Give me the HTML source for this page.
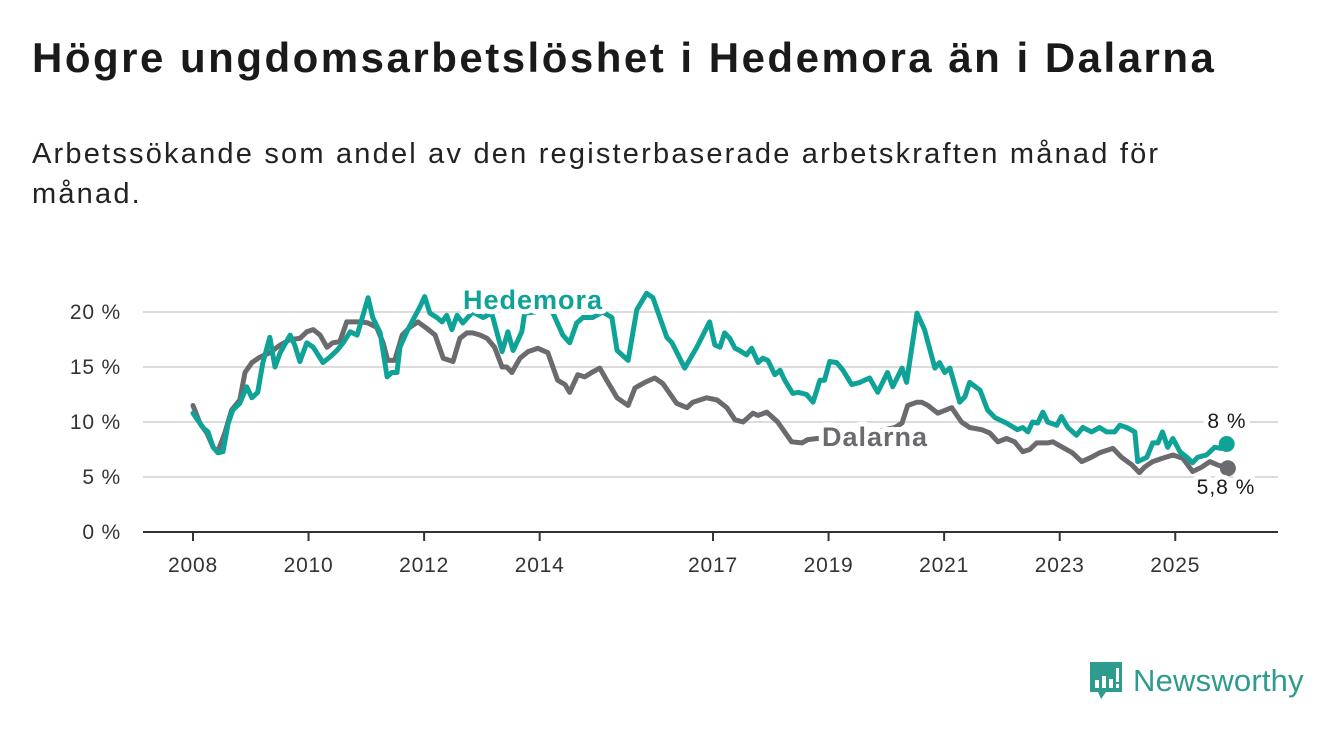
<!DOCTYPE html>
<html><head><meta charset="utf-8">
<style>
html,body{margin:0;padding:0;background:#fff;}
body{width:1340px;height:734px;position:relative;overflow:hidden;font-family:"Liberation Sans",sans-serif;color:#1a1a1a;}
#title{position:absolute;left:32px;top:34px;font-size:42px;font-weight:bold;margin:0;letter-spacing:2.5px;}
#subtitle{position:absolute;left:32px;top:134px;font-size:29px;line-height:40px;width:1185px;margin:0;color:#222;letter-spacing:2.2px;}
svg{position:absolute;left:0;top:0;}
#logo{position:absolute;left:1088px;top:660px;display:flex;align-items:center;}
#logo span{font-size:31px;color:#2e9b8f;font-weight:normal;margin-left:9px;letter-spacing:0.2px;}
</style></head>
<body>
<h1 id="title">Högre ungdomsarbetslöshet i Hedemora än i Dalarna</h1>
<p id="subtitle">Arbetssökande som andel av den registerbaserade arbetskraften månad för månad.</p>
<svg id="chart" width="1340" height="734"></svg>
<div id="logo">
<svg width="36" height="42" viewBox="0 0 36 42" style="position:static"><path d="M2 2h32v30H18l-5 7-3-7H2z" fill="#2e9b8f"/><rect x="7" y="20" width="4" height="8" fill="#fff"/><rect x="14" y="16" width="4" height="12" fill="#fff"/><rect x="21" y="19" width="4" height="9" fill="#fff"/><rect x="28" y="8" width="3" height="14" fill="#fff"/><rect x="28" y="24" width="3" height="4" fill="#fff"/></svg>
<span>Newsworthy</span>
</div>
<script>
const yTicks=[0,5,10,15,20];
const xTickYears=[2008,2010,2012,2014,2017,2019,2021,2023,2025];
const hedYears=[2008.0,2008.17,2008.26,2008.35,2008.43,2008.52,2008.61,2008.69,2008.81,2008.93,2009.02,2009.12,2009.21,2009.33,2009.42,2009.51,2009.68,2009.76,2009.85,2009.97,2010.08,2010.25,2010.37,2010.49,2010.60,2010.72,2010.84,2010.92,2011.03,2011.11,2011.24,2011.36,2011.44,2011.53,2011.58,2011.70,2011.81,2011.93,2012.01,2012.10,2012.22,2012.31,2012.39,2012.48,2012.57,2012.67,2012.84,2013.02,2013.17,2013.35,2013.45,2013.54,2013.69,2013.74,2013.92,2014.09,2014.23,2014.40,2014.52,2014.64,2014.75,2014.92,2015.09,2015.25,2015.34,2015.53,2015.68,2015.85,2015.96,2016.20,2016.29,2016.51,2016.72,2016.94,2017.03,2017.12,2017.20,2017.29,2017.38,2017.46,2017.58,2017.67,2017.78,2017.86,2017.95,2018.07,2018.16,2018.24,2018.38,2018.47,2018.62,2018.73,2018.85,2018.93,2019.02,2019.14,2019.25,2019.40,2019.54,2019.71,2019.85,2020.02,2020.11,2020.27,2020.35,2020.53,2020.66,2020.84,2020.92,2021.01,2021.10,2021.27,2021.36,2021.44,2021.62,2021.75,2021.88,2022.08,2022.27,2022.36,2022.45,2022.53,2022.62,2022.71,2022.79,2022.95,2023.03,2023.14,2023.29,2023.40,2023.55,2023.69,2023.81,2023.95,2024.04,2024.16,2024.30,2024.35,2024.51,2024.61,2024.70,2024.78,2024.87,2024.96,2025.08,2025.20,2025.30,2025.39,2025.54,2025.68,2025.80,2025.89];
const hedValues=[10.8,9.5,9.1,7.7,7.2,7.3,9.9,11.1,11.7,13.2,12.2,12.7,15.4,17.7,15.0,16.3,17.9,17.0,15.5,17.2,16.8,15.4,15.9,16.5,17.2,18.2,17.9,19.3,21.3,19.5,18.1,14.1,14.5,14.5,16.8,18.2,19.3,20.5,21.4,19.9,19.5,19.1,19.7,18.4,19.7,19.0,20.0,19.5,19.9,16.4,18.2,16.5,18.2,19.9,20.0,20.5,19.9,17.9,17.2,19.0,19.5,19.5,20.0,19.5,16.5,15.6,20.2,21.7,21.3,17.7,17.2,14.9,16.8,19.1,17.0,16.8,18.1,17.6,16.7,16.5,16.1,16.7,15.4,15.8,15.6,14.3,14.7,13.8,12.6,12.7,12.5,11.8,13.8,13.8,15.5,15.4,14.7,13.4,13.6,14.0,12.7,14.5,13.2,14.9,13.6,19.9,18.4,14.9,15.4,14.5,14.9,11.8,12.3,13.6,12.9,11.1,10.4,9.9,9.3,9.5,9.1,10.0,9.9,10.9,10.0,9.7,10.5,9.5,8.8,9.5,9.1,9.5,9.1,9.1,9.7,9.5,9.1,6.4,6.8,8.1,8.1,9.1,7.7,8.5,7.3,6.8,6.3,6.8,7.0,7.7,7.6,8.0];
const dalYears=[2008.0,2008.12,2008.24,2008.35,2008.43,2008.55,2008.67,2008.81,2008.90,2009.02,2009.16,2009.33,2009.51,2009.68,2009.85,2009.97,2010.08,2010.20,2010.32,2010.42,2010.54,2010.66,2010.77,2010.92,2011.03,2011.18,2011.29,2011.37,2011.49,2011.62,2011.75,2011.89,2012.05,2012.19,2012.33,2012.50,2012.62,2012.74,2012.84,2012.97,2013.09,2013.22,2013.35,2013.43,2013.52,2013.66,2013.80,2013.97,2014.14,2014.31,2014.44,2014.52,2014.66,2014.78,2014.90,2015.04,2015.16,2015.34,2015.53,2015.65,2015.82,2015.99,2016.13,2016.37,2016.55,2016.65,2016.89,2017.07,2017.24,2017.38,2017.52,2017.69,2017.78,2017.93,2018.12,2018.36,2018.54,2018.64,2018.80,2019.19,2019.71,2020.15,2020.27,2020.37,2020.53,2020.61,2020.72,2020.89,2021.13,2021.30,2021.44,2021.65,2021.79,2021.93,2022.08,2022.22,2022.36,2022.48,2022.60,2022.79,2022.88,2023.05,2023.22,2023.38,2023.55,2023.69,2023.92,2024.07,2024.25,2024.38,2024.47,2024.61,2024.78,2024.96,2025.13,2025.30,2025.46,2025.60,2025.73,2025.91];
const dalValues=[11.5,9.9,9.0,7.7,7.3,9.0,11.1,12.0,14.5,15.4,15.9,16.3,17.0,17.5,17.6,18.2,18.4,17.9,16.8,17.2,17.3,19.1,19.1,19.1,19.0,18.6,17.2,15.6,15.6,17.9,18.6,19.1,18.5,17.9,15.8,15.5,17.6,18.1,18.1,17.9,17.6,16.8,15.0,15.0,14.5,15.8,16.4,16.7,16.3,13.8,13.4,12.7,14.3,14.1,14.5,14.9,13.8,12.2,11.5,13.1,13.6,14.0,13.5,11.7,11.3,11.8,12.2,12.0,11.3,10.2,10.0,10.8,10.6,10.9,10.0,8.2,8.1,8.4,8.5,8.5,9.0,9.5,9.9,11.5,11.8,11.8,11.5,10.8,11.3,10.0,9.5,9.3,9.0,8.2,8.5,8.2,7.3,7.5,8.1,8.1,8.2,7.7,7.2,6.4,6.8,7.2,7.6,6.8,6.1,5.4,5.9,6.4,6.7,7.0,6.7,5.5,5.9,6.4,6.1,5.8];

const NS='http://www.w3.org/2000/svg';
const svg=document.getElementById('chart');
const X0=143,X1=1278;
const xs=y=>193+(y-2008)*57.78;
const ys=v=>532-v*11;
function mk(tag,attrs,parent){const e=document.createElementNS(NS,tag);for(const k in attrs)e.setAttribute(k,attrs[k]);(parent||svg).appendChild(e);return e;}
const teal='#0fa397',gray='#6b6a6e';
yTicks.forEach(t=>{
  if(t>0){const g=mk('line',{x1:X0,x2:X1,y1:ys(t),y2:ys(t),stroke:'#dcdcdc','stroke-width':2});
  
  }
  const tx=mk('text',{x:121,y:ys(t)+7,'text-anchor':'end','font-size':21,'letter-spacing':0.8,fill:'#333','font-family':'Liberation Sans, sans-serif'});
  tx.textContent=t+' %';
  
  
});
const base=mk('line',{x1:X0,x2:X1,y1:532,y2:532,stroke:'#333','stroke-width':2});


xTickYears.forEach(yr=>{
  const x=xs(yr);
  const tk=mk('line',{x1:x,x2:x,y1:532,y2:541,stroke:'#333','stroke-width':2});
  
  
  const tx=mk('text',{x:x,y:572,'text-anchor':'middle','font-size':21,'letter-spacing':0.8,fill:'#333','font-family':'Liberation Sans, sans-serif'});
  tx.textContent=yr;
  
  
});
function line(years,vals,color,name){
  const d=years.map((y,i)=>(i?'L':'M')+xs(y).toFixed(1)+','+ys(vals[i]).toFixed(1)).join('');
  const p=mk('path',{d:d,fill:'none',stroke:color,'stroke-width':5,'stroke-linejoin':'round','stroke-linecap':'round'});
  
  
  const n=years.length-1;
  const c=mk('circle',{cx:xs(years[n]),cy:ys(vals[n]),r:8,fill:color});
  
  
}
line(dalYears,dalValues,gray,'dalarna-line');
line(hedYears,hedValues,teal,'hedemora-line');
function label(txt,x,y,color,size,weight,anchor,name){
  const t=mk('text',{x:x,y:y,'font-size':size,'font-weight':weight,'letter-spacing':1,fill:color,stroke:'#fff','stroke-width':10,'paint-order':'stroke','stroke-linejoin':'round','text-anchor':anchor,'font-family':'Liberation Sans, sans-serif'});
  t.textContent=txt;
  
  
}
label('Hedemora',463,309,teal,27,'bold','start','hedemora-label');
label('Dalarna',822,446,gray,27,'bold','start','dalarna-label');
label('8 %',1227,428,'#1a1a1a',21,'normal','middle','hedemora-end-value');
label('5,8 %',1226,494,'#1a1a1a',21,'normal','middle','dalarna-end-value');
</script>
</body></html>
